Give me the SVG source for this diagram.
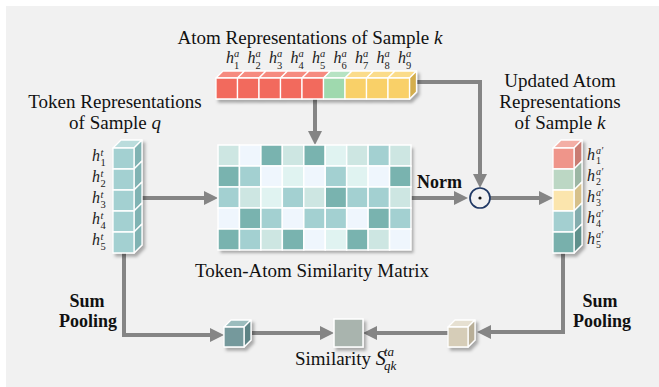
<svg xmlns="http://www.w3.org/2000/svg" width="659" height="387" viewBox="0 0 659 387">
<style>
.t{font-family:"Liberation Serif","Times New Roman",serif;font-size:19px;fill:#111}
.b{font-family:"Liberation Serif","Times New Roman",serif;font-size:18px;font-weight:bold;fill:#111}
.m{font-family:"Liberation Serif","Times New Roman",serif;font-size:16px;font-style:italic;fill:#222}
.s{font-size:10.5px}
.si{font-size:10.5px;font-style:italic}
.s2{font-size:10px}
.si2{font-size:10px;font-style:italic}
.up{font-style:normal}
.f{stroke:#fff;stroke-width:1.3;stroke-linejoin:round}
.c0{fill:#eff6fd}.c1{fill:#e0f3f1}.c2{fill:#cde6e2}.c3{fill:#a3d0d1}.c4{fill:#79b3af}
.cell{stroke:#fff;stroke-width:1.5}
.ln{fill:none;stroke:#858585;stroke-width:4;stroke-linejoin:miter}
</style>
<defs>
<filter id="sh" x="-20%" y="-20%" width="150%" height="150%">
<feDropShadow dx="2.5" dy="3" stdDeviation="1.8" flood-color="#000" flood-opacity="0.3"/>
</filter>
<marker id="ah" viewBox="0 0 14 14" markerWidth="14" markerHeight="14" refX="2" refY="7" orient="auto" markerUnits="userSpaceOnUse">
<path d="M0,0 L14,7 L0,14 z" fill="#858585"/>
</marker>
</defs>
<rect x="6" y="6" width="653" height="381" fill="#f1f1f1"/>

<g id="connectors">
<path class="ln" d="M142,198 H206" marker-end="url(#ah)"/>
<path class="ln" d="M315,99 V133" marker-end="url(#ah)"/>
<path class="ln" d="M411,198 H456" marker-end="url(#ah)"/>
<path class="ln" d="M416,82 H480 V176" marker-end="url(#ah)"/>
<path class="ln" d="M490,198 H541" marker-end="url(#ah)"/>
<path class="ln" d="M124,253 V335 H212" marker-end="url(#ah)"/>
<path class="ln" d="M252,333 H322" marker-end="url(#ah)"/>
<path class="ln" d="M563,253 V332 H489" marker-end="url(#ah)"/>
<path class="ln" d="M448,333 H375" marker-end="url(#ah)"/>
</g>

<g id="atom-title">
<text class="t" x="310" y="44" text-anchor="middle">Atom Representations of Sample <tspan font-style="italic">k</tspan></text>
</g>

<g id="atom-bar" filter="url(#sh)">
<g class="f">
<polygon points="216,78 223,71 244.5,71 237.5,78" fill="#f68b80"/>
<polygon points="237.5,78 244.5,71 266,71 259,78" fill="#f68b80"/>
<polygon points="259,78 266,71 287.5,71 280.5,78" fill="#f68b80"/>
<polygon points="280.5,78 287.5,71 309,71 302,78" fill="#f68b80"/>
<polygon points="302,78 309,71 330.5,71 323.5,78" fill="#f68b80"/>
<polygon points="323.5,78 330.5,71 352,71 345,78" fill="#b6e3c3"/>
<polygon points="345,78 352,71 373.5,71 366.5,78" fill="#fbdc8a"/>
<polygon points="366.5,78 373.5,71 395,71 388,78" fill="#fbdc8a"/>
<polygon points="388,78 395,71 416.5,71 409.5,78" fill="#fbdc8a"/>
<polygon points="409.5,78 416.5,71 416.5,92 409.5,99" fill="#d4ae4e"/>
<rect x="216" y="78" width="21.5" height="21" fill="#f26a5d"/>
<rect x="237.5" y="78" width="21.5" height="21" fill="#f26a5d"/>
<rect x="259" y="78" width="21.5" height="21" fill="#f26a5d"/>
<rect x="280.5" y="78" width="21.5" height="21" fill="#f26a5d"/>
<rect x="302" y="78" width="21.5" height="21" fill="#f26a5d"/>
<rect x="323.5" y="78" width="21.5" height="21" fill="#9fd9ae"/>
<rect x="345" y="78" width="21.5" height="21" fill="#f9d067"/>
<rect x="366.5" y="78" width="21.5" height="21" fill="#f9d067"/>
<rect x="388" y="78" width="21.5" height="21" fill="#f9d067"/>
</g>
</g>
<g id="atom-labels">
<text class="m" x="226" y="62.5">h<tspan class="si" x="234" y="56.5">a</tspan><tspan class="s up" x="234" y="68.5">1</tspan></text>
<text class="m" x="247.5" y="62.5">h<tspan class="si" x="255.5" y="56.5">a</tspan><tspan class="s up" x="255.5" y="68.5">2</tspan></text>
<text class="m" x="269" y="62.5">h<tspan class="si" x="277" y="56.5">a</tspan><tspan class="s up" x="277" y="68.5">3</tspan></text>
<text class="m" x="290.5" y="62.5">h<tspan class="si" x="298.5" y="56.5">a</tspan><tspan class="s up" x="298.5" y="68.5">4</tspan></text>
<text class="m" x="312" y="62.5">h<tspan class="si" x="320" y="56.5">a</tspan><tspan class="s up" x="320" y="68.5">5</tspan></text>
<text class="m" x="333.5" y="62.5">h<tspan class="si" x="341.5" y="56.5">a</tspan><tspan class="s up" x="341.5" y="68.5">6</tspan></text>
<text class="m" x="355" y="62.5">h<tspan class="si" x="363" y="56.5">a</tspan><tspan class="s up" x="363" y="68.5">7</tspan></text>
<text class="m" x="376.5" y="62.5">h<tspan class="si" x="384.5" y="56.5">a</tspan><tspan class="s up" x="384.5" y="68.5">8</tspan></text>
<text class="m" x="398" y="62.5">h<tspan class="si" x="406" y="56.5">a</tspan><tspan class="s up" x="406" y="68.5">9</tspan></text>
</g>

<g id="token-title">
<text class="t" x="115" y="108" text-anchor="middle">Token Representations</text>
<text class="t" x="115" y="129" text-anchor="middle">of Sample <tspan font-style="italic">q</tspan></text>
</g>

<g id="token-column" filter="url(#sh)">
<g class="f">
<polygon points="113,148 121,140 142,140 134,148" fill="#badcdc"/>
<polygon points="134,148 142,140 142,161 134,169" fill="#80b3b3"/>
<polygon points="134,169 142,161 142,182 134,190" fill="#80b3b3"/>
<polygon points="134,190 142,182 142,203 134,211" fill="#80b3b3"/>
<polygon points="134,211 142,203 142,224 134,232" fill="#80b3b3"/>
<polygon points="134,232 142,224 142,245 134,253" fill="#80b3b3"/>
<rect x="113" y="148" width="21" height="21" fill="#a3d0d1"/>
<rect x="113" y="169" width="21" height="21" fill="#a3d0d1"/>
<rect x="113" y="190" width="21" height="21" fill="#a3d0d1"/>
<rect x="113" y="211" width="21" height="21" fill="#a3d0d1"/>
<rect x="113" y="232" width="21" height="21" fill="#a3d0d1"/>
</g>
</g>
<g id="token-labels">
<text class="m" x="92" y="161">h<tspan class="si" x="100.5" y="155.5">t</tspan><tspan class="s up" x="100.5" y="166">1</tspan></text>
<text class="m" x="92" y="182">h<tspan class="si" x="100.5" y="176.5">t</tspan><tspan class="s up" x="100.5" y="187">2</tspan></text>
<text class="m" x="92" y="203">h<tspan class="si" x="100.5" y="197.5">t</tspan><tspan class="s up" x="100.5" y="208">3</tspan></text>
<text class="m" x="92" y="224">h<tspan class="si" x="100.5" y="218.5">t</tspan><tspan class="s up" x="100.5" y="229">4</tspan></text>
<text class="m" x="92" y="245">h<tspan class="si" x="100.5" y="239.5">t</tspan><tspan class="s up" x="100.5" y="250">5</tspan></text>
</g>

<g id="similarity-matrix">
<g filter="url(#sh)">
<rect x="218" y="145" width="193" height="105" fill="#fff"/>
</g>
<g class="cell">
<rect class="c2" x="218" y="145" width="21.44" height="21"/>
<rect class="c0" x="239.44" y="145" width="21.44" height="21"/>
<rect class="c4" x="260.89" y="145" width="21.44" height="21"/>
<rect class="c2" x="282.33" y="145" width="21.44" height="21"/>
<rect class="c4" x="303.78" y="145" width="21.44" height="21"/>
<rect class="c1" x="325.22" y="145" width="21.44" height="21"/>
<rect class="c2" x="346.67" y="145" width="21.44" height="21"/>
<rect class="c3" x="368.11" y="145" width="21.44" height="21"/>
<rect class="c2" x="389.56" y="145" width="21.44" height="21"/>

<rect class="c4" x="218" y="166" width="21.44" height="21"/>
<rect class="c3" x="239.44" y="166" width="21.44" height="21"/>
<rect class="c0" x="260.89" y="166" width="21.44" height="21"/>
<rect class="c1" x="282.33" y="166" width="21.44" height="21"/>
<rect class="c0" x="303.78" y="166" width="21.44" height="21"/>
<rect class="c3" x="325.22" y="166" width="21.44" height="21"/>
<rect class="c1" x="346.67" y="166" width="21.44" height="21"/>
<rect class="c0" x="368.11" y="166" width="21.44" height="21"/>
<rect class="c4" x="389.56" y="166" width="21.44" height="21"/>

<rect class="c3" x="218" y="187" width="21.44" height="21"/>
<rect class="c2" x="239.44" y="187" width="21.44" height="21"/>
<rect class="c1" x="260.89" y="187" width="21.44" height="21"/>
<rect class="c3" x="282.33" y="187" width="21.44" height="21"/>
<rect class="c2" x="303.78" y="187" width="21.44" height="21"/>
<rect class="c4" x="325.22" y="187" width="21.44" height="21"/>
<rect class="c3" x="346.67" y="187" width="21.44" height="21"/>
<rect class="c3" x="368.11" y="187" width="21.44" height="21"/>
<rect class="c2" x="389.56" y="187" width="21.44" height="21"/>

<rect class="c0" x="218" y="208" width="21.44" height="21"/>
<rect class="c4" x="239.44" y="208" width="21.44" height="21"/>
<rect class="c3" x="260.89" y="208" width="21.44" height="21"/>
<rect class="c0" x="282.33" y="208" width="21.44" height="21"/>
<rect class="c3" x="303.78" y="208" width="21.44" height="21"/>
<rect class="c3" x="325.22" y="208" width="21.44" height="21"/>
<rect class="c0" x="346.67" y="208" width="21.44" height="21"/>
<rect class="c4" x="368.11" y="208" width="21.44" height="21"/>
<rect class="c3" x="389.56" y="208" width="21.44" height="21"/>

<rect class="c4" x="218" y="229" width="21.44" height="21"/>
<rect class="c3" x="239.44" y="229" width="21.44" height="21"/>
<rect class="c2" x="260.89" y="229" width="21.44" height="21"/>
<rect class="c4" x="282.33" y="229" width="21.44" height="21"/>
<rect class="c0" x="303.78" y="229" width="21.44" height="21"/>
<rect class="c1" x="325.22" y="229" width="21.44" height="21"/>
<rect class="c4" x="346.67" y="229" width="21.44" height="21"/>
<rect class="c2" x="368.11" y="229" width="21.44" height="21"/>
<rect class="c0" x="389.56" y="229" width="21.44" height="21"/>
</g>
<text class="t" x="312" y="277" text-anchor="middle">Token-Atom Similarity Matrix</text>
</g>

<g id="norm-label">
<text class="b" x="417" y="188">Norm</text>
</g>

<g id="hadamard">
<circle cx="480" cy="198" r="10" fill="#f1f1f1" stroke="#1f3864" stroke-width="1.7"/>
<circle cx="480" cy="198" r="1.6" fill="#111"/>
</g>

<g id="updated-title">
<text class="t" x="560" y="87" text-anchor="middle">Updated Atom</text>
<text class="t" x="560" y="108" text-anchor="middle">Representations</text>
<text class="t" x="560" y="129" text-anchor="middle">of Sample <tspan font-style="italic">k</tspan></text>
</g>

<g id="updated-column" filter="url(#sh)">
<g class="f">
<polygon points="553,148 561,140 582,140 574,148" fill="#f3aea5"/>
<polygon points="574,148 582,140 582,161 574,169" fill="#c97b72"/>
<polygon points="574,169 582,161 582,182 574,190" fill="#9cb6a4"/>
<polygon points="574,190 582,182 582,203 574,211" fill="#d6c08a"/>
<polygon points="574,211 582,203 582,224 574,232" fill="#84adae"/>
<polygon points="574,232 582,224 582,245 574,253" fill="#5e908c"/>
<rect x="553" y="148" width="21" height="21" fill="#ef958a"/>
<rect x="553" y="169" width="21" height="21" fill="#bcd7c4"/>
<rect x="553" y="190" width="21" height="21" fill="#fbe5ad"/>
<rect x="553" y="211" width="21" height="21" fill="#a3cfd0"/>
<rect x="553" y="232" width="21" height="21" fill="#78b0ac"/>
</g>
</g>
<g id="updated-labels">
<text class="m" x="587" y="160">h<tspan class="si2" x="596" y="154">a′</tspan><tspan class="s2 up" x="596" y="163.5">1</tspan></text>
<text class="m" x="587" y="181">h<tspan class="si2" x="596" y="175">a′</tspan><tspan class="s2 up" x="596" y="184.5">2</tspan></text>
<text class="m" x="587" y="202">h<tspan class="si2" x="596" y="196">a′</tspan><tspan class="s2 up" x="596" y="205.5">3</tspan></text>
<text class="m" x="587" y="223">h<tspan class="si2" x="596" y="217">a′</tspan><tspan class="s2 up" x="596" y="226.5">4</tspan></text>
<text class="m" x="587" y="244">h<tspan class="si2" x="596" y="238">a′</tspan><tspan class="s2 up" x="596" y="247.5">5</tspan></text>
</g>

<g id="sum-pooling-left">
<text class="b" x="87" y="307" text-anchor="middle">Sum</text>
<text class="b" x="88" y="327" text-anchor="middle">Pooling</text>
</g>
<g id="sum-pooling-right">
<text class="b" x="600" y="307" text-anchor="middle">Sum</text>
<text class="b" x="602" y="327" text-anchor="middle">Pooling</text>
</g>

<g id="token-pooled-cube" filter="url(#sh)">
<g class="f">
<polygon points="224,327 231,320 251,320 244,327" fill="#9bbcbd"/>
<polygon points="244,327 251,320 251,340 244,347" fill="#5d8385"/>
<rect x="224" y="327" width="20" height="20" fill="#74999c"/>
</g>
</g>

<g id="atom-pooled-cube" filter="url(#sh)">
<g class="f">
<polygon points="448,327 455,320 475,320 468,327" fill="#e6e0d1"/>
<polygon points="468,327 475,320 475,340 468,347" fill="#b8ae97"/>
<rect x="448" y="327" width="20" height="20" fill="#d6cdb8"/>
</g>
</g>

<g id="similarity-score">
<rect x="334" y="319" width="29" height="28" fill="#a9b4ae" stroke="#fff" stroke-width="1.5" filter="url(#sh)"/>
<text class="t" x="295" y="365">Similarity <tspan font-style="italic" font-size="20px">S</tspan><tspan font-style="italic" font-size="13px" x="384" y="356">ta</tspan><tspan font-style="italic" font-size="13px" x="384" y="370">qk</tspan></text>
</g>
</svg>
